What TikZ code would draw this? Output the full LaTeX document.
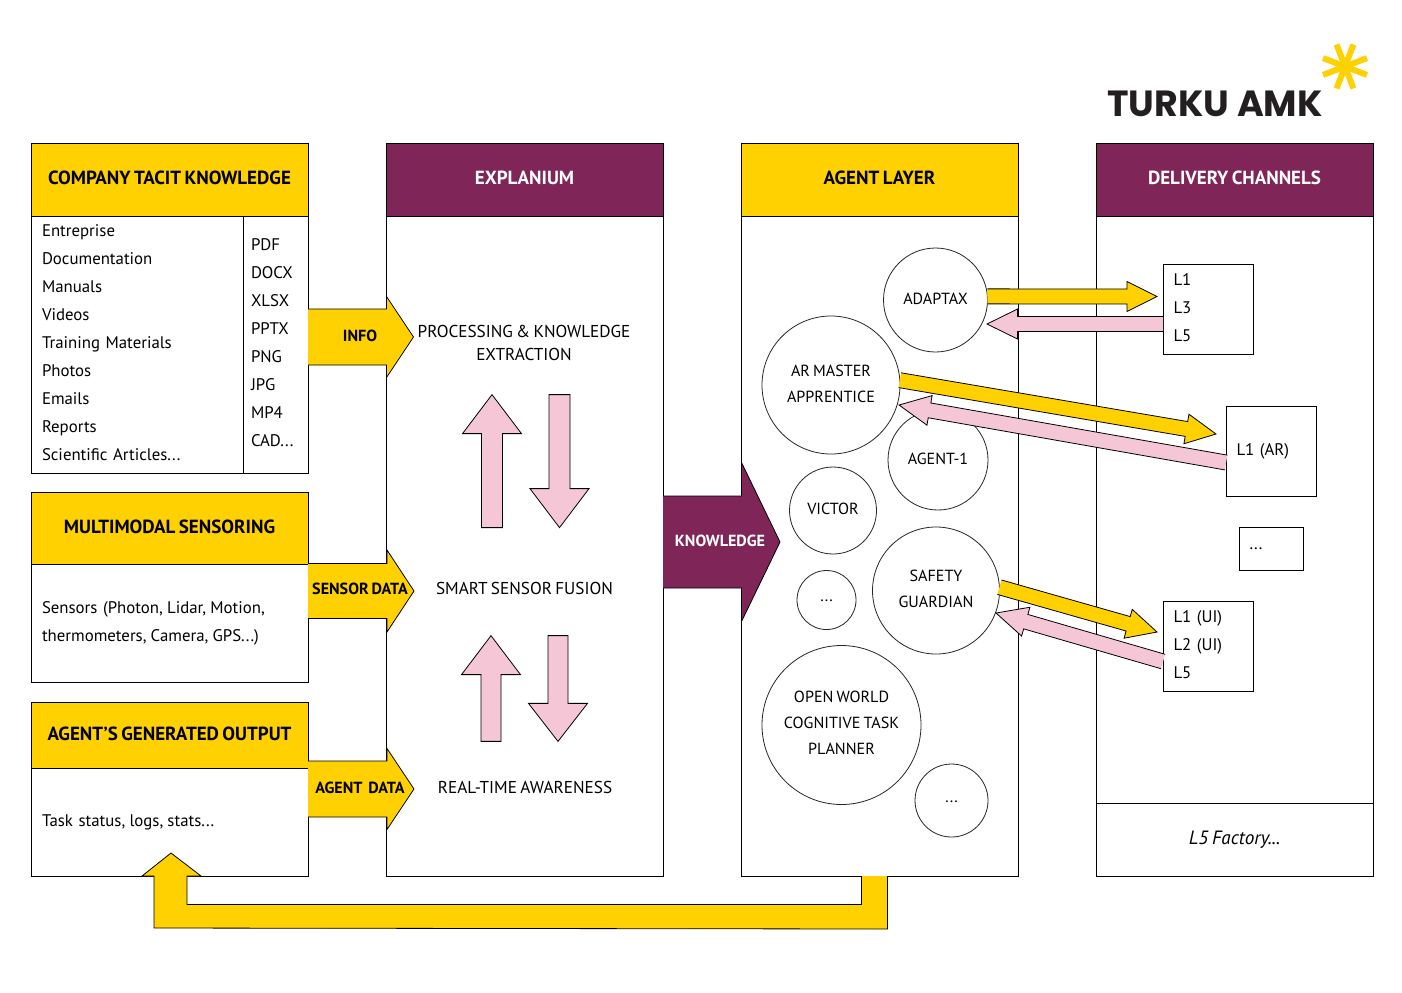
\documentclass[tikz,border=0pt]{standalone}
\usepackage{fontspec}
\setmainfont{PT Sans}[WordSpace=0.72]
\newfontfamily\logofont{Poppins}
\usetikzlibrary{
  positioning,
  calc}
\frenchspacing
\definecolor{headyellow}{RGB}{255,209,0}
\definecolor{headpurple}{RGB}{127,37,87}
\definecolor{flowpink}{RGB}{245,198,214}
\definecolor{logoblack}{RGB}{35,31,32}
\newcommand{\listfont}{\fontsize{8.4}{14}\selectfont}
\newcommand{\roundfont}{\fontsize{8.05}{13}\selectfont}
\newcommand{\headfont}{\fontsize{9.5}{12}\selectfont\bfseries}
\newcommand{\flowfont}{\fontsize{8.6}{11.5}\selectfont}
\newcommand{\lastdepth}{\rule[-1.8pt]{0pt}{1pt}}
\newcommand{\tightcomma}{,\kern-0.7pt}
\tikzset{
  %% headyellow : title bar of a column, yellow
  yellowhead/.style={
    rectangle,
    draw=black,
    line width=0.5pt,
    fill=headyellow,
    minimum width=138.5pt,
    outer sep=0pt,
    text depth=2pt,
    font=\headfont,
    align=center
  },
  %% purplehead : title bar of a column, purple
  purplehead/.style={
    yellowhead,
    fill=headpurple,
    text=white
  },
  %% panel : body under a title bar
  panel/.style={
    rectangle,
    draw=black,
    line width=0.5pt,
    fill=white,
    minimum width=138.5pt,
    outer sep=0pt,
    inner xsep=5.5pt,
    inner ysep=0pt,
    font=\listfont,
    align=left
  },
  %% channel : small box of delivery levels
  channel/.style={
    panel,
    line width=0.5pt,
    minimum width=0pt,
    inner xsep=5pt
  },
  %% agent : round agent in the agent layer
  agent/.style={
    circle,
    draw=black!85,
    line width=0.4pt,
    fill=white,
    inner sep=0pt,
    outer sep=0pt,
    minimum size=#1,
    text depth=2pt,
    font=\roundfont,
    align=center
  },
  %% flowtext : text of a processing stage
  flowtext/.style={
    font=\flowfont,
    inner sep=0pt,
    align=center
  },
  %% arrowtext : bold label on a block arrow
  arrowtext/.style={
    font=\fontsize{8.05}{10}\selectfont\bfseries,
    inner sep=0pt
  },
  yellowarrow/.style={draw=black, line width=0.4pt, fill=headyellow},
  pinkarrow/.style={draw=black, line width=0.4pt, fill=flowpink},
  purplearrow/.style={draw=black, line width=0.4pt, fill=headpurple}
}
%% block arrow: [style]{from}{to}{half shaft}{half head}{head length}{path end}
\newcommand{\blockarrow}[7][]{%
  \coordinate (ba-s) at #2;
  \coordinate (ba-t) at #3;
  \coordinate (ba-b) at ($(ba-t)!#6*0.5pt!(ba-s)$);
  \draw [#1] ($(ba-s)!#4*0.5pt!90:(ba-t)$)
  -- ($(ba-b)!#4*0.5pt!90:(ba-t)$)
  -- ($(ba-b)!#5*0.5pt!90:(ba-t)$)
  -- (ba-t)
  -- ($(ba-b)!#5*0.5pt!-90:(ba-t)$)
  -- ($(ba-b)!#4*0.5pt!-90:(ba-t)$)
  -- ($(ba-s)!#4*0.5pt!-90:(ba-t)$) #7;
}
\begin{document}
\begin{tikzpicture}
  [x=0.5pt,
  y=-0.5pt]

  \useasboundingbox (0,0) rectangle (1402,992);

  %% Logo
  \node (logo) [font=\logofont\fontsize{18.2}{20}\selectfont\bfseries,
    text=logoblack, inner sep=0pt] at (1215,103.5) {TURKU AMK};
  \foreach \ang in {21,69,111,159}{
    \draw[headyellow, line width=3pt]
    ($(1345,66.5)+(\ang:23.5)$) -- ($(1345,66.5)-(\ang:23.5)$);
  }

  %% Left column
  \node (tacit) [yellowhead, minimum height=36.5pt, anchor=north west]
  at (31,143) {COMPANY TACIT KNOWLEDGE};
  \node (tacitleft) [panel, minimum width=0pt, text width=95pt,
    minimum height=128.5pt, below=0pt of tacit.south west, anchor=north west]{%
    Entreprise\\
    Documentation\\
    Manuals\\
    Videos\\
    Training Materials\\
    Photos\\
    Emails\\
    Reports\\
    Scientific Articles...\lastdepth
  };
  \node (tacitright) [panel, minimum width=0pt, inner xsep=4pt, text width=24.5pt,
    minimum height=128.5pt, right=0pt of tacitleft]{%
    PDF\\
    DOCX\\
    XLSX\\
    PPTX\\
    PNG\\
    JPG\\
    MP4\\
    CAD...\lastdepth
  };

  \node (sensoring) [yellowhead, minimum height=36pt, text depth=1.2pt, anchor=north west]
  at (31,492) {MULTIMODAL SENSORING};
  \node (sensorbody) [panel, text width=127.5pt, minimum height=59pt,
    below=0pt of sensoring]{%
    Sensors (Photon\tightcomma{} Lidar\tightcomma{} Motion,\\
    thermometers\tightcomma{} Camera\tightcomma{} GPS...)
  };

  \node (output) [yellowhead, minimum height=33pt, text depth=1.2pt, anchor=north west]
  at (31,702) {AGENT’S GENERATED OUTPUT};
  \node (outputbody) [panel, text width=127.5pt, minimum height=54pt,
    below=0pt of output]{%
    Task status\tightcomma{} logs\tightcomma{} stats...
  };

  %% Explanium column
  \node (explanium) [purplehead, minimum height=36.5pt, anchor=north west]
  at (386,143) {EXPLANIUM};
  \node (explaniumbody) [panel, minimum height=330pt, below=0pt of explanium]{};
  \node (processing) [flowtext] at (524,342.5) {%
    PROCESSING \& KNOWLEDGE\\
    EXTRACTION
  };
  \node (fusion) [flowtext] at (524.5,588) {SMART SENSOR FUSION};
  \node (awareness) [flowtext] at (525,787) {REAL-TIME AWARENESS};

  %% Agent column
  \node (layer) [yellowhead, minimum height=36.5pt, anchor=north west]
  at (741,143) {AGENT LAYER};
  \node (layerbody) [panel, minimum height=330pt, below=0pt of layer]{};

  \node (adaptax) [agent=52pt, text depth=1.2pt] at (935.5,300) {ADAPTAX};
  \node (agentone) [agent=50pt, text depth=1.2pt] at (938,460) {AGENT-1};
  \node (armaster) [agent=69pt, text depth=1.2pt] at (831,385) {%
    AR MASTER\\
    APPRENTICE
  };
  \node (victor) [agent=43.5pt] at (833,510.5) {VICTOR};
  \node (moresmall) [agent=29.5pt, text height=1.5pt, text depth=0pt] at (826.5,600) {...};
  \node (safety) [agent=63.5pt] at (936,590.5) {%
    SAFETY\\
    GUARDIAN
  };
  \node (openworld) [agent=79.5pt] at (841.5,725) {%
    OPEN WORLD\\
    COGNITIVE TASK\\
    PLANNER
  };
  \node (morebottom) [agent=36.5pt, text height=1.5pt, text depth=0pt] at (951.5,800.5) {...};

  %% Delivery column
  \node (delivery) [purplehead, minimum height=36.5pt, anchor=north west]
  at (1096,143) {DELIVERY CHANNELS};
  \node (deliverybody) [panel, minimum height=293.5pt, below=0pt of delivery]{};
  \node (factory) [panel, minimum height=36.5pt, below=0pt of deliverybody,
    text height=5pt, text depth=0pt,
    align=center, font=\fontsize{9.6}{12}\selectfont\itshape]{L5 Factory...};

  \node (levelsa) [channel, text width=35pt, minimum height=45pt, anchor=north west]
  at (1163.5,264.5) {%
    L1\\
    L3\\
    L5\lastdepth
  };
  \node (levelsar) [channel, text width=35pt, minimum height=45pt, anchor=north west]
  at (1226.5,406.5) {L1 (AR)};
  \node (levelsmore) [channel, text width=22pt, minimum height=21.5pt,
    anchor=north west] at (1239.5,527.5) {...};
  \node (levelsui) [channel, text width=35pt, minimum height=45pt, anchor=north west]
  at (1163.5,601.5) {%
    L1 (UI)\\
    L2 (UI)\\
    L5\lastdepth
  };

  %% Input arrows
  \blockarrow[yellowarrow]{(tacitright.east |- 0,337)}{(413.5,337)}{28}{40.5}{27}{}
  \node (infolabel) [arrowtext] at (360,336) {INFO};
  \blockarrow[yellowarrow]{(sensorbody.east |- 0,591)}{(414,591)}{27.5}{41}{27}{}
  \node (sensorlabel) [arrowtext] at (360,589) {SENSOR DATA};
  \blockarrow[yellowarrow]{(outputbody.east |- 0,789)}{(414,789)}{28}{40.5}{27}{}
  \node (agentlabel) [arrowtext] at (360,788) {AGENT\ \ DATA};

  %% Arrows between the stages
  \blockarrow[pinkarrow]{($(processing.south)+(-32,167)$)}{($(processing.south)+(-32,34)$)}
  {10.5}{29.5}{39}{-- cycle}
  \blockarrow[pinkarrow]{($(processing.south)+(35.5,34)$)}{($(processing.south)+(35.5,167)$)}
  {10.5}{29.5}{39}{-- cycle}
  \blockarrow[pinkarrow]{($(awareness.north)+(-34,-39)$)}{($(fusion.south)+(-33.5,41)$)}
  {10}{29.5}{39}{-- cycle}
  \blockarrow[pinkarrow]{($(fusion.south)+(33.5,41)$)}{($(awareness.north)+(33,-39)$)}
  {10}{29.5}{38}{-- cycle}

  %% Knowledge
  \blockarrow[purplearrow]{(explaniumbody.east |- 0,542)}{(780,542)}{46}{79.5}{38.5}{}
  \node (knowledgelabel) [arrowtext, text=white] at (720,541) {KNOWLEDGE};

  %% Agents to delivery channels
  \blockarrow[yellowarrow]{(adaptax.4)}{($(levelsa.west)+(-6.5,-13)$)}{7.5}{15}{30}{}
  \blockarrow[pinkarrow]{($(levelsa.west)+(-0.4,14.5)$)}{($(adaptax.center)+(51.5,24)$)}{7.5}{15}{30.5}{}
  \blockarrow[yellowarrow]{(armaster.4)}{($(levelsar.north west)+(-10.5,27.5)$)}{7.5}{15}{30}{}
  \blockarrow[pinkarrow]{($(levelsar.west)+(-0.4,11)$)}{($(armaster.center)+(68,20)$)}{7.5}{15}{31}{}
  \blockarrow[yellowarrow]{(safety.3)}{($(levelsui.west)+(-6.5,-14.5)$)}{7.5}{15}{30}{}
  \blockarrow[pinkarrow]{($(levelsui.west)+(-0.4,15)$)}{($(safety.center)+(60,22.5)$)}{7.5}{15}{31}{}

  %% Feedback to the generated output
  \coordinate (feedbacktip) at ($(outputbody.south)+(1.5,-23)$);
  \draw [yellowarrow] ($(layerbody.south)+(-18,0)$) -- ++(0,28.5)
  -| ($(feedbacktip)+(16,23)$) -- ($(feedbacktip)+(30,23)$) -- (feedbacktip)
  -- ($(feedbacktip)+(-29,23)$) -- ($(feedbacktip)+(-17,23)$)
  -- ($(feedbacktip)+(-17,75)$) -- ($(layerbody.south)+(8,53)$)
  -- ($(layerbody.south)+(8,0)$);

\end{tikzpicture}
\end{document}
